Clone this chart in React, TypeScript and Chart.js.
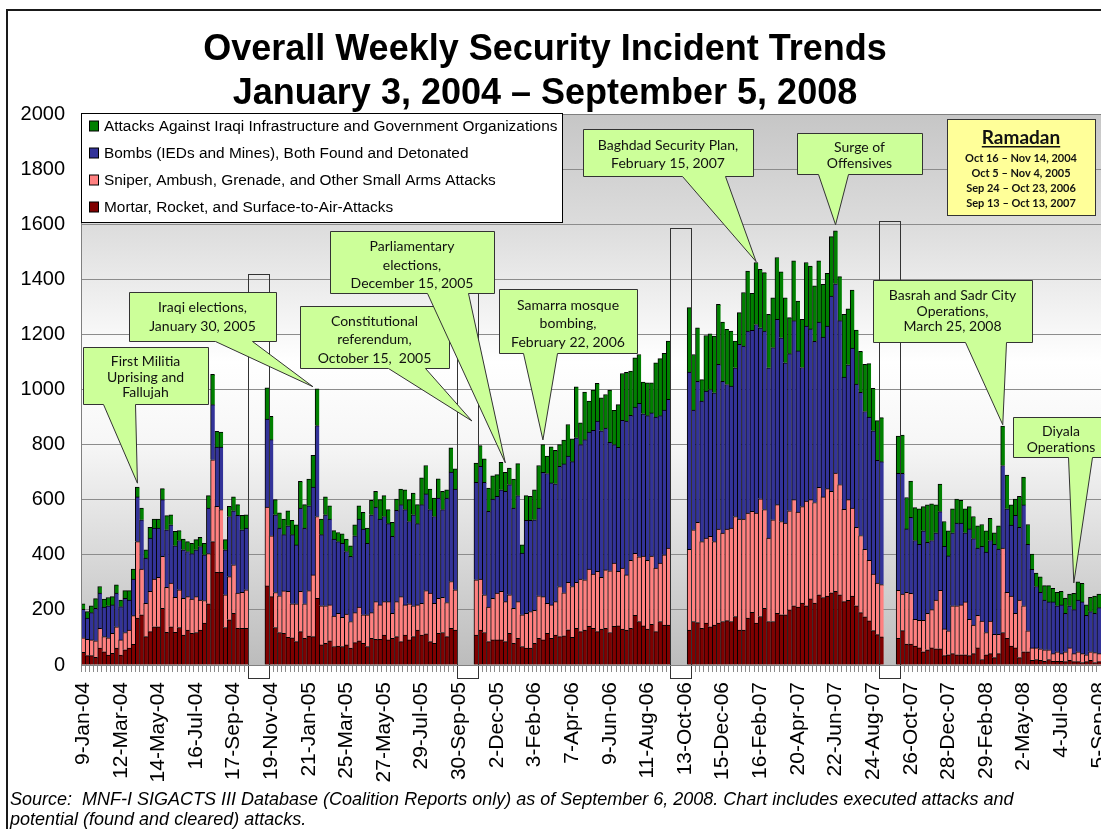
import React, { useEffect, useRef } from 'react';
import { Chart, registerables } from 'chart.js';

Chart.register(...registerables);

const TICK_LABELS = ['9-Jan-04','12-Mar-04','14-May-04','16-Jul-04','17-Sep-04','19-Nov-04','21-Jan-05','25-Mar-05','27-May-05','29-Jul-05','30-Sep-05','2-Dec-05','3-Feb-06','7-Apr-06','9-Jun-06','11-Aug-06','13-Oct-06','15-Dec-06','16-Feb-07','20-Apr-07','22-Jun-07','24-Aug-07','26-Oct-07','28-Dec-07','29-Feb-08','2-May-08','4-Jul-08','5-Sep-08'];

const N = null;

const MORTAR = [
46,34,34,28,61,48,36,42,61,36,
55,61,75,170,182,103,121,139,139,206,
119,139,119,136,109,127,115,118,127,152,
222,448,336,336,136,164,188,133,133,133,
N,N,N,N,287,248,136,118,115,100,
99,85,121,97,105,103,242,73,79,88,
67,69,67,73,61,81,88,79,67,97,
93,93,109,91,97,103,85,109,91,103,
127,109,113,85,79,115,118,103,133,127,
N,N,N,N,109,127,118,85,91,91,
91,85,115,79,97,67,61,61,79,97,
91,115,97,109,103,106,128,100,133,121,
127,140,133,121,130,133,118,140,142,130,
127,133,180,158,142,130,148,121,158,145,
145,N,N,N,N,127,158,154,133,152,
139,145,152,158,161,158,176,127,127,170,
191,152,176,206,158,158,188,182,182,200,
215,210,225,215,240,225,255,245,250,262,
267,255,230,235,250,215,190,175,160,125,
110,102,N,N,N,97,125,76,76,69,
62,48,55,62,59,59,34,37,41,37,
37,37,34,41,62,20,37,41,27,41,
118,97,69,62,27,48,48,17,20,17,
13,20,13,13,13,12,17,12,12,9,
12,17,9,12];

const SNIPER = [
53,59,57,60,72,55,63,73,78,55,
63,66,104,278,166,121,146,173,179,188,
163,158,127,137,133,121,124,130,109,82,
182,297,240,228,119,157,176,128,131,140,
N,N,N,N,286,221,127,133,154,167,
123,137,146,125,165,224,297,142,136,130,
111,119,106,112,97,109,122,103,115,93,
137,125,121,139,91,127,163,109,131,112,
91,115,157,176,145,127,128,124,170,146,
N,N,N,N,200,185,137,125,151,170,
176,145,140,127,133,115,127,133,119,154,
157,109,121,121,182,156,172,185,167,191,
182,208,197,219,188,212,224,230,198,222,
200,247,225,235,253,250,247,231,212,255,
279,N,N,N,N,293,333,364,315,309,
328,303,341,321,332,339,363,403,403,381,
367,399,427,358,303,369,394,339,333,360,
385,345,350,380,360,365,390,365,390,368,
430,400,335,365,320,285,280,245,220,205,
187,190,N,N,N,174,132,188,184,97,
100,114,133,139,177,212,97,87,174,178,
181,192,132,104,118,139,81,118,84,70,
306,167,181,126,209,167,76,45,42,42,
42,35,28,35,28,36,45,29,36,32,
25,31,36,29];

const BOMBS = [
103,77,99,118,128,107,116,103,122,121,
124,109,133,162,179,164,194,185,179,206,
209,212,187,179,176,164,165,170,194,166,
166,200,215,227,163,218,196,282,227,224,
N,N,N,N,320,349,282,246,204,238,
251,214,303,275,308,319,330,258,330,312,
279,260,269,227,236,279,320,311,260,355,
343,312,309,283,279,331,334,346,299,330,
295,358,351,303,315,364,318,379,397,366,
N,N,N,N,354,409,408,348,360,351,
369,400,400,364,385,224,337,331,329,319,
451,471,443,428,436,468,458,453,525,488,
509,497,522,545,532,515,466,430,450,536,
558,526,531,557,517,525,520,548,535,525,
540,N,N,N,N,643,434,512,510,533,
533,540,598,551,525,515,540,634,628,661,
657,685,621,648,618,625,673,667,582,570,
650,585,505,635,620,585,600,580,590,709,
687,595,480,490,580,520,520,500,520,520,
446,446,N,N,N,425,439,230,276,286,
276,325,257,251,244,286,300,272,265,300,
297,251,328,314,244,272,292,293,327,310,
300,303,258,355,264,366,314,285,223,205,
181,174,188,167,177,140,153,160,188,188,
143,146,143,167];

const ATTACKS = [
20,24,25,35,24,29,30,30,30,24,
28,34,36,36,43,30,39,33,33,40,
51,36,52,36,39,36,38,37,33,42,
45,110,57,54,37,37,50,39,52,48,
N,N,N,N,113,85,55,55,57,55,
52,73,97,85,97,115,133,57,65,48,
31,33,34,45,39,40,48,61,55,53,
57,70,76,51,51,41,57,72,79,79,
69,97,103,75,67,70,66,30,88,73,
N,N,N,N,70,75,85,84,85,79,
100,69,60,105,116,30,90,87,109,154,
101,63,131,121,79,86,115,83,185,79,
173,113,146,137,120,122,190,124,155,170,
177,161,179,177,115,119,109,197,207,206,
212,N,N,N,N,234,202,194,78,202,
202,206,218,215,200,200,97,115,194,218,
134,225,212,212,194,181,224,239,236,131,
217,181,175,231,228,201,222,192,192,216,
192,160,228,203,211,196,149,171,194,154,
144,160,N,N,N,135,139,114,132,119,
129,88,136,133,101,100,90,91,87,87,
83,87,81,80,81,79,77,80,42,84,
143,122,73,59,112,101,72,56,49,56,
52,59,49,49,49,55,42,59,66,67,
38,52,62,49];

const SERIES_NAMES = [
  'Mortar, Rocket, and Surface-to-Air-Attacks',
  'Sniper, Ambush, Grenade, and Other Small Arms Attacks',
  'Bombs (IEDs and Mines), Both Found and Detonated',
  'Attacks Against Iraqi Infrastructure and Government Organizations',
];
const SERIES_COLORS = ['#800000', '#ff8080', '#333399', '#008000'];

const MONTHS = ['Jan','Feb','Mar','Apr','May','Jun','Jul','Aug','Sep','Oct','Nov','Dec'];
const START = Date.UTC(2004, 0, 9);
const WEEKS = MORTAR.map((_, i) => {
  const d = new Date(START + i * 7 * 86400000);
  return `${d.getUTCDate()}-${MONTHS[d.getUTCMonth()]}-${String(d.getUTCFullYear()).slice(2)}`;
});

// Ramadan periods outlined on the chart (category index range, top value)
const RAMADAN_BOXES = [
  { from: 40, to: 44, top: 1420 },
  { from: 90, to: 94, top: 1350 },
  { from: 141, to: 145, top: 1587 },
  { from: 191, to: 195, top: 1613 },
];
const RAMADAN_DATES = ['Oct 16 \u2013 Nov 14, 2004', 'Oct 5 \u2013 Nov 4, 2005', 'Sep 24 \u2013 Oct 23, 2006', 'Sep 13 \u2013 Oct 13, 2007'];

// Callouts: box in px, pointer base on the box bottom, tip anchored on a data point
const CALLOUTS = [
  { box: [83, 347, 208, 404], base: [103, 135], tip: [13, 660], lines: ['First Militia', 'Uprising and', 'Fallujah'], ys: [361, 377, 392] },
  { box: [129, 292, 276, 341], base: [215, 252], tip: [55, 1010], lines: ['Iraqi elections,', 'January 30, 2005'], ys: [307, 326] },
  { box: [300, 306, 449, 368], base: [388, 425], tip: [93, 886], lines: ['Constitutional', 'referendum,', 'October 15,  2005'], ys: [321, 339, 358] },
  { box: [330, 231, 494, 293], base: [427, 468], tip: [101, 734], lines: ['Parliamentary', 'elections,', 'December 15, 2005'], ys: [246, 265, 283] },
  { box: [499, 289, 637, 353], base: [523, 557], tip: [110, 817], lines: ['Samarra mosque', 'bombing,', 'February 22, 2006'], ys: [305, 323, 342] },
  { box: [583, 129, 753, 176], base: [682, 725], tip: [161, 1464], lines: ['Baghdad Security Plan,', 'February 15, 2007'], ys: [145, 163] },
  { box: [797, 133, 922, 174], base: [818, 848], tip: [180, 1598], lines: ['Surge of', 'Offensives'], ys: [147, 163] },
  { box: [873, 280, 1032, 342], base: [965, 1006], tip: [220, 872], lines: ['Basrah and Sadr City', 'Operations,', 'March 25, 2008'], ys: [295, 311, 326] },
  { box: [1013, 417, 1109, 457], base: [1068, 1092], tip: [237, 298], lines: ['Diyala', 'Operations'], ys: [431, 447] },
];

const decoPlugin = {
  id: 'deco',
  beforeDraw(chart: any) {
    const { ctx, chartArea: a } = chart;
    ctx.save();
    ctx.fillStyle = '#ffffff';
    ctx.fillRect(0, 0, chart.width, chart.height);
    const g = ctx.createLinearGradient(0, a.top, 0, a.bottom);
    g.addColorStop(0, '#c6c6c6');
    g.addColorStop(0.2, '#dcdcdc');
    g.addColorStop(0.45, '#ffffff');
    g.addColorStop(0.6, '#f6f6f6');
    g.addColorStop(0.82, '#d6d6d6');
    g.addColorStop(1, '#bcbcbc');
    ctx.fillStyle = g;
    ctx.fillRect(a.left, a.top, a.right - a.left, a.bottom - a.top);
    ctx.restore();
  },
  afterDatasetsDraw(chart: any) {
    const { ctx, chartArea: a } = chart;
    const xs = chart.scales.x, ys = chart.scales.y;
    const half = (xs.getPixelForValue(1) - xs.getPixelForValue(0)) / 2;
    ctx.save();
    for (const b of RAMADAN_BOXES) {
      const l = Math.round(xs.getPixelForValue(b.from) - half);
      const r = Math.round(xs.getPixelForValue(b.to) + half);
      const t = Math.round(ys.getPixelForValue(b.top));
      const bot = a.bottom + 13;
      ctx.fillStyle = '#ffffff';
      ctx.fillRect(l, a.bottom + 1, r - l, bot - a.bottom - 1);
      ctx.strokeStyle = '#333333';
      ctx.lineWidth = 1;
      ctx.strokeRect(l + 0.5, t + 0.5, r - l, bot - t);
    }
    ctx.strokeStyle = '#7f7f7f';
    ctx.lineWidth = 1;
    ctx.strokeRect(a.left + 0.5, a.top + 0.5, a.right - a.left, a.bottom - a.top);
    ctx.restore();
  },
  afterDraw(chart: any) {
    const { ctx } = chart;
    const xs = chart.scales.x, ys = chart.scales.y;
    ctx.save();

    // Legend (inside plot area)
    ctx.fillStyle = '#ffffff';
    ctx.fillRect(82, 114, 481, 109);
    ctx.strokeStyle = '#000000';
    ctx.lineWidth = 1;
    ctx.strokeRect(81.5, 113.5, 481, 109);
    const order = [3, 2, 1, 0];
    order.forEach((di, k) => {
      const yc = 126 + k * 27;
      ctx.fillStyle = SERIES_COLORS[di];
      ctx.fillRect(89.5, yc - 5, 9, 10);
      ctx.strokeStyle = '#000';
      ctx.strokeRect(89.5, yc - 5, 9, 10);
      ctx.fillStyle = '#000';
      ctx.font = '15.4px "Liberation Sans", Arial, sans-serif';
      ctx.textAlign = 'left';
      ctx.textBaseline = 'middle';
      ctx.fillText(chart.data.datasets[di].label, 104, yc + 1);
    });

    // Callouts
    for (const c of CALLOUTS) {
      const [x1, y1, x2, y2] = c.box;
      const tx = xs.getPixelForValue(c.tip[0]);
      const ty = ys.getPixelForValue(c.tip[1]);
      ctx.beginPath();
      ctx.moveTo(x1 + 0.5, y1 + 0.5);
      ctx.lineTo(x2 + 0.5, y1 + 0.5);
      ctx.lineTo(x2 + 0.5, y2 + 0.5);
      ctx.lineTo(c.base[1] + 0.5, y2 + 0.5);
      ctx.lineTo(tx, ty);
      ctx.lineTo(c.base[0] + 0.5, y2 + 0.5);
      ctx.lineTo(x1 + 0.5, y2 + 0.5);
      ctx.closePath();
      ctx.fillStyle = '#ccff99';
      ctx.fill();
      ctx.strokeStyle = '#333333';
      ctx.lineWidth = 1;
      ctx.stroke();
      ctx.fillStyle = '#111111';
      ctx.font = '14px Lato, "Noto Sans", sans-serif';
      ctx.textAlign = 'center';
      ctx.textBaseline = 'middle';
      const cx = (x1 + x2) / 2;
      c.lines.forEach((ln, k) => ctx.fillText(ln, cx, c.ys[k]));
    }

    // Ramadan note
    ctx.fillStyle = '#ffff99';
    ctx.fillRect(947, 119, 148, 96);
    ctx.strokeStyle = '#333333';
    ctx.strokeRect(947.5, 119.5, 148, 96);
    ctx.fillStyle = '#111111';
    ctx.textAlign = 'center';
    ctx.textBaseline = 'middle';
    ctx.font = 'bold 19px Lato, "Noto Sans", sans-serif';
    ctx.fillText('Ramadan', 1021, 138);
    const rw = ctx.measureText('Ramadan').width;
    ctx.fillRect(1021 - rw / 2, 146, rw, 1.5);
    ctx.font = 'bold 11px Lato, "Noto Sans", sans-serif';
    RAMADAN_DATES.forEach((t, k) => ctx.fillText(t, 1021, 158 + k * 15));

    // Title
    ctx.fillStyle = '#000';
    ctx.font = 'bold 36px "Liberation Sans", Arial, sans-serif';
    ctx.textBaseline = 'alphabetic';
    ctx.fillText('Overall Weekly Security Incident Trends', 545, 60);
    ctx.fillText('January 3, 2004 \u2013 September 5, 2008', 545, 104);

    // Source
    ctx.textAlign = 'left';
    ctx.font = 'italic 18px "Liberation Sans", Arial, sans-serif';
    ctx.fillText('Source:  MNF-I SIGACTS III Database (Coalition Reports only) as of September 6, 2008. Chart includes executed attacks and', 10, 805);
    ctx.fillText('potential (found and cleared) attacks.', 10, 825);

    // Frame
    ctx.strokeStyle = '#1a1a1a';
    ctx.lineWidth = 2;
    ctx.beginPath();
    ctx.moveTo(7, 840);
    ctx.lineTo(7, 10);
    ctx.lineTo(1110, 10);
    ctx.stroke();
    ctx.restore();
  },
};

export default function App() {
  const ref = useRef<HTMLCanvasElement | null>(null);
  useEffect(() => {
    if (!ref.current) return;
    const datasets = [MORTAR, SNIPER, BOMBS, ATTACKS].map((d, k) => ({
      label: SERIES_NAMES[k],
      data: d,
      backgroundColor: SERIES_COLORS[k],
      borderColor: '#000000',
      borderWidth: { top: 1, left: 1, right: 0, bottom: 0 },
      borderSkipped: false,
      categoryPercentage: 1,
      barPercentage: 1,
    }));
    const chart = new Chart(ref.current, {
      type: 'bar',
      data: { labels: WEEKS, datasets: datasets as any },
      options: {
        responsive: false,
        animation: false,
        devicePixelRatio: 1,
        layout: { padding: { left: 0, right: 0, top: 114, bottom: 0 } },
        plugins: { legend: { display: false }, tooltip: { enabled: false }, title: { display: false } },
        scales: {
          x: {
            stacked: true,
            grid: { drawOnChartArea: false, drawTicks: true, tickLength: 7, color: '#8c8c8c' },
            border: { display: false },
            ticks: {
              autoSkip: false,
              maxRotation: 90,
              minRotation: 90,
              padding: 10,
              color: '#000',
              font: { family: '"Liberation Sans", Arial, sans-serif', size: 21 },
              callback: (_v: any, i: number) => (i % 9 === 0 ? TICK_LABELS[i / 9] : ''),
            },
            afterFit: (s: any) => { s.height = 164; s.paddingLeft = 0; s.paddingRight = 0; },
          },
          y: {
            stacked: true,
            min: 0,
            max: 2000,
            ticks: {
              stepSize: 200,
              padding: 16,
              color: '#000',
              font: { family: '"Liberation Sans", Arial, sans-serif', size: 20 },
              callback: (v: any) => String(v),
            },
            grid: { color: '#8c8c8c', drawTicks: false },
            border: { display: false },
            afterFit: (s: any) => { s.width = 81; s.paddingTop = 0; s.paddingBottom = 0; },
          },
        },
      } as any,
      plugins: [decoPlugin],
    });
    return () => chart.destroy();
  }, []);
  return (
    <div>
      <canvas ref={ref} width={1101} height={829} style={{ position: 'absolute', left: 0, top: 0 }} />
    </div>
  );
}
